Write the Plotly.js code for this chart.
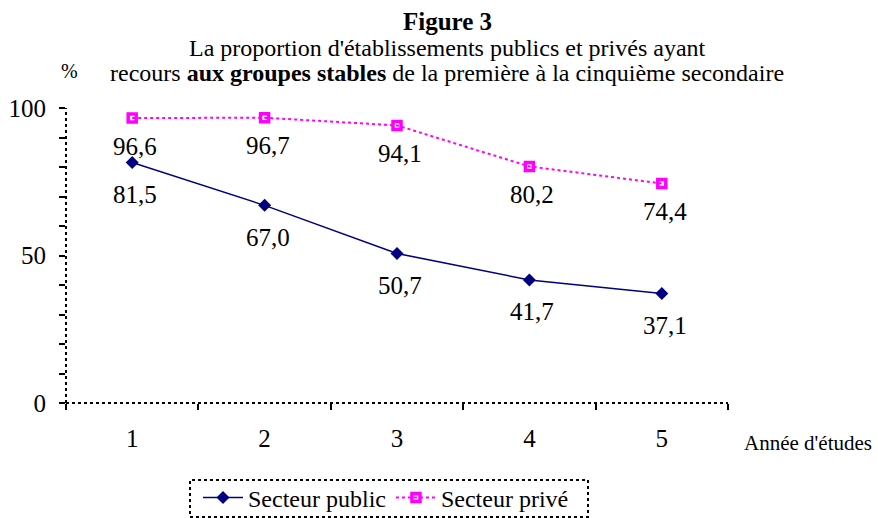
<!DOCTYPE html>
<html><head><meta charset="utf-8">
<script src="https://cdn.plot.ly/plotly-3.0.1.min.js"></script>
<style>html,body{margin:0;padding:0;background:#fff}</style>
</head><body>
<div id="chart" style="width:878px;height:518px"></div>
<script>
const categories = ["1","2","3","4","5"];
const publicValues = [81.5, 67.0, 50.7, 41.7, 37.1];
const privateValues = [96.6, 96.7, 94.1, 80.2, 74.4];
const publicLabels = ["81,5","67,0","50,7","41,7","37,1"];
const privateLabels = ["96,6","96,7","94,1","80,2","74,4"];
const yTicks = [0, 50, 100];

const FONT = "Liberation Serif";

const traces = [
  {x: categories, y: publicValues, name: "Secteur public", type: "scatter", mode: "lines+markers",
   line: {color: "#000080", width: 1.5}, marker: {symbol: "diamond", size: 10, color: "#000080"}},
  {x: categories, y: privateValues, name: "Secteur privé", type: "scatter", mode: "lines+markers",
   line: {color: "#FF00FF", width: 2, dash: "dot"},
   marker: {symbol: "square-open", size: 8, color: "#FF00FF", line: {width: 3.5, color: "#FF00FF"}}}
];

const annotations = [];
categories.forEach((c, i) => {
  annotations.push({x: i, y: publicValues[i], text: publicLabels[i], showarrow: false, yshift: -32, xshift: 3,
    font: {family: FONT, size: 25, color: "#000"}});
  annotations.push({x: i, y: privateValues[i], text: privateLabels[i], showarrow: false, yshift: -28, xshift: 3,
    font: {family: FONT, size: 25, color: "#000"}});
});
annotations.push({xref: "paper", yref: "paper", x: 0.006, y: 1.08, xanchor: "center", yanchor: "bottom",
  text: "%", showarrow: false, font: {family: FONT, size: 20, color: "#000"}});
annotations.push({xref: "paper", yref: "paper", x: (742-66)/662, y: -(443-403)/295, xanchor: "left", yanchor: "middle",
  text: "Année d'études", showarrow: false, font: {family: FONT, size: 21, color: "#000"}});
const titleLines = ["<b>Figure 3</b>",
  "La proportion d'établissements publics et privés ayant",
  "recours <b>aux groupes stables</b> de la première à la cinquième secondaire"];
const titleY = [22, 48, 73];
const titleSize = [25, 24, 24];
titleLines.forEach((t, i) => {
  annotations.push({xref: "paper", yref: "paper", x: (447-66)/662, y: (403 - titleY[i])/295, xanchor: "center", yanchor: "middle",
    text: t, showarrow: false, font: {family: FONT, size: titleSize[i], color: "#000"}});
});

const shapes = [
  {type: "line", xref: "paper", yref: "paper", x0: 0, x1: 0, y0: 0, y1: 1, line: {color: "#000", width: 2, dash: "dot"}},
  {type: "line", xref: "paper", yref: "paper", x0: 0, x1: 1, y0: 0, y1: 0, line: {color: "#000", width: 2, dash: "dot"}},
  {type: "rect", xref: "paper", yref: "paper", x0: (190-66)/662, x1: (588-66)/662, y0: -(517-403)/295, y1: -(480-403)/295,
   line: {color: "#000", width: 2, dash: "dot"}}
];

const layout = {
  width: 878, height: 518,
  margin: {l: 66, r: 150, t: 108, b: 115},
  paper_bgcolor: "#fff", plot_bgcolor: "#fff",
  xaxis: {type: "category", range: [-0.5, 4.5], tickson: "boundaries", ticks: "outside", ticklen: 6, tickwidth: 2,
    tickcolor: "#000", showline: false, showgrid: false, zeroline: false, ticklabelstandoff: 18,
    tickfont: {family: FONT, size: 25, color: "#000"}},
  yaxis: {range: [0, 100], tickvals: yTicks, ticks: "outside", ticklen: 6, tickwidth: 2, tickcolor: "#000",
    showline: false, showgrid: false, zeroline: false, ticklabelstandoff: 8,
    minor: {dtick: 10, ticks: "outside", ticklen: 6, tickwidth: 2, tickcolor: "#000"},
    tickfont: {family: FONT, size: 25, color: "#000"}},
  showlegend: true,
  legend: {orientation: "h", x: 386/878, xref: "container", xanchor: "center", y: 1 - 498/518, yref: "container", yanchor: "middle",
    font: {family: FONT, size: 24, color: "#000"}, bgcolor: "rgba(0,0,0,0)", itemwidth: 40, tracegroupgap: 0},
  annotations: annotations,
  shapes: shapes
};

Plotly.newPlot("chart", traces, layout, {displayModeBar: false});
</script>
</body></html>
